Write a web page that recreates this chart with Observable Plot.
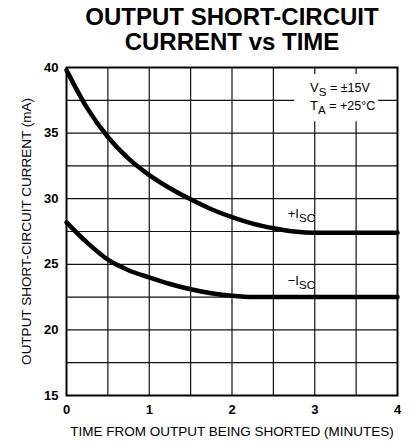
<!DOCTYPE html>
<html>
<head>
<meta charset="utf-8">
<script src="https://cdn.jsdelivr.net/npm/d3@7"></script>
<script src="https://cdn.jsdelivr.net/npm/@observablehq/plot@0.6"></script>
<style>
  html, body { margin: 0; padding: 0; background: #fff; }
  body { width: 409px; height: 445px; overflow: hidden; font-family: "Liberation Sans", Arial, Helvetica, sans-serif; }
  #title { box-sizing: border-box; width: 409px; height: 58px; padding-left: 55px; padding-top: 4px;
           text-align: center; font-weight: bold; font-size: 24px; line-height: 25px; color: #000; }
  svg { display: block; }
</style>
</head>
<body>
<div id="title">OUTPUT SHORT-CIRCUIT<br>CURRENT vs TIME</div>
<script>
// ---- data ----
const timeMin = [0, 0.25, 0.5, 0.75, 1, 1.25, 1.5, 1.75, 2, 2.25, 2.5, 2.75, 3, 3.25, 3.5, 3.75, 4];
const iscPlus = [39.8, 36.9, 34.7, 33.05, 31.8, 30.8, 29.95, 29.2, 28.6, 28.1, 27.75, 27.5, 27.4, 27.4, 27.4, 27.4, 27.4];
const iscMinus = [28.2, 26.65, 25.35, 24.55, 24.0, 23.5, 23.1, 22.8, 22.6, 22.5, 22.5, 22.5, 22.5, 22.5, 22.5, 22.5, 22.5];
const xTicks = [0, 1, 2, 3, 4];
const yTicks = [15, 20, 25, 30, 35, 40];
const xGrid = [0.5, 1, 1.5, 2, 2.5, 3, 3.5];
const yGrid = [17.5, 20, 22.5, 25, 27.5, 30, 32.5, 35, 37.5];
const xTitle = "TIME FROM OUTPUT BEING SHORTED (MINUTES)";
const yTitle = "OUTPUT SHORT-CIRCUIT CURRENT (mA)";
const curveLabels = [
  {x: 2.68, y: 28.5, main: "+I", sub: "SC", rest: ""},
  {x: 2.68, y: 23.4, main: "\u2212I", sub: "SC", rest: ""}
];
const conditions = [
  {x: 2.95, y: 38.1, main: "V", sub: "S", rest: " = \u00b115V"},
  {x: 2.95, y: 36.7, main: "T", sub: "A", rest: " = +25\u00b0C"}
];

const plusData = timeMin.map((t, i) => ({t, v: iscPlus[i]}));
const minusData = timeMin.map((t, i) => ({t, v: iscMinus[i]}));

function subText(list, cls) {
  return (index, scales) => {
    const g = d3.create("svg:g").attr("class", cls).attr("fill", "#000").attr("text-anchor", "start");
    for (const d of list) {
      const t = g.append("text")
        .attr("x", scales.x(d.x)).attr("y", scales.y(d.y))
        .attr("font-size", 13);
      t.append("tspan").text(d.main);
      t.append("tspan").attr("dy", 4).attr("font-size", 11.5).text(d.sub);
      if (d.rest) t.append("tspan").attr("dy", -4).attr("font-size", 12.5).text(d.rest);
    }
    return g.node();
  };
}

const chart = Plot.plot({
  width: 409,
  height: 387,
  marginTop: 9,
  marginBottom: 50,
  marginLeft: 66,
  marginRight: 12,
  style: {fontFamily: "'Liberation Sans', Arial, Helvetica, sans-serif", background: "#fff", color: "#000"},
  x: {domain: [0, 4]},
  y: {domain: [15, 40]},
  marks: [
    Plot.ruleX(xGrid, {stroke: "#111", strokeWidth: 1.2}),
    Plot.ruleY(yGrid, {stroke: "#111", strokeWidth: 1.2}),
    Plot.frame({stroke: "#000", strokeWidth: 2}),
    Plot.axisX({ticks: xTicks, tickFormat: d => String(d), tickSize: 0, tickPadding: 9, fontSize: 13, fontWeight: "bold", label: null}),
    Plot.axisY({ticks: yTicks, tickFormat: d => String(d), tickSize: 0, tickPadding: 8, fontSize: 13, fontWeight: "bold", label: null}),
    Plot.line(plusData, {x: "t", y: "v", curve: "monotone-x", stroke: "#000", strokeWidth: 4.5}),
    Plot.line(minusData, {x: "t", y: "v", curve: "monotone-x", stroke: "#000", strokeWidth: 4.5}),
    Plot.text([xTitle], {frameAnchor: "bottom", textAnchor: "middle", dy: 40, fontSize: 13.5, fill: "#000"}),
    Plot.text([yTitle], {frameAnchor: "left", textAnchor: "middle", dx: -40, rotate: -90, fontSize: 13.5, fill: "#000"}),
    subText(curveLabels, "curve-labels"),
    subText(conditions, "conditions")
  ]
});
document.body.append(chart);

// white panel behind the conditions text (sized from the text itself)
const cg = chart.querySelector("g.conditions");
if (cg) {
  const b = cg.getBBox();
  const r = document.createElementNS("http://www.w3.org/2000/svg", "rect");
  r.setAttribute("x", b.x - 16);
  r.setAttribute("y", b.y - 6);
  r.setAttribute("width", b.width + 19);
  r.setAttribute("height", b.height + 11);
  r.setAttribute("fill", "#fff");
  cg.insertBefore(r, cg.firstChild);
}
</script>
</body>
</html>
